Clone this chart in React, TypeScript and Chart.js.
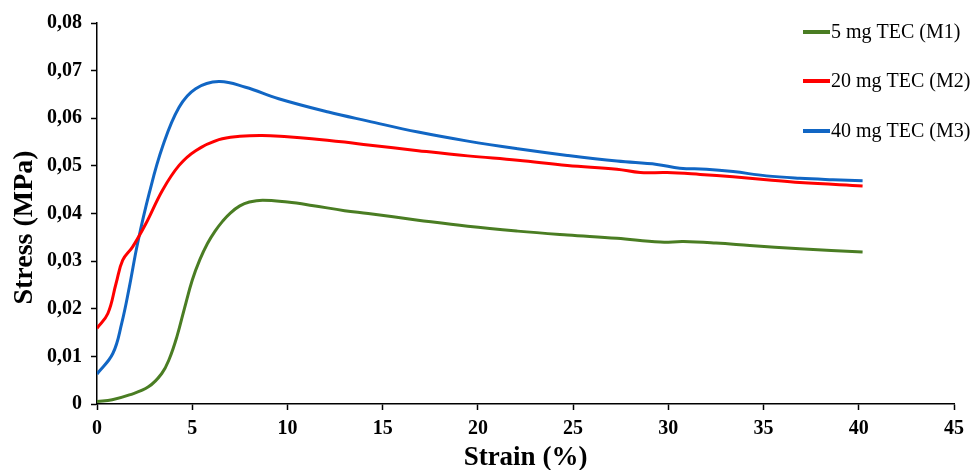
import React, { useEffect, useRef } from "react";
import { Chart, registerables } from "chart.js";

Chart.register(...registerables);

const seriesLabels = ["5 mg TEC (M1)", "20 mg TEC (M2)", "40 mg TEC (M3)"];
const seriesColors = ["#4a7d23", "#ff0000", "#1166c4"];

const m1Strain = [0, 0.8, 1.7, 2.7, 3.4, 3.8, 4.2, 4.6, 5.0, 5.4, 5.8, 6.2, 6.6, 7.0, 7.5, 8.0, 8.7, 10, 11.28, 13, 14.24, 16.86, 19.47, 22.09, 24.7, 27.3, 29.57, 30.8, 32.5, 34.28, 36.9, 40.2];
const m1Stress = [0.0005, 0.0009, 0.0019, 0.0036, 0.0064, 0.0095, 0.0142, 0.0202, 0.026, 0.0303, 0.0337, 0.0363, 0.0384, 0.0401, 0.0416, 0.0424, 0.0428, 0.0424, 0.0417, 0.0406, 0.04, 0.0386, 0.0373, 0.0363, 0.0355, 0.0348, 0.034, 0.0341, 0.0338, 0.0333, 0.0326, 0.0319];

const m2Strain = [0, 0.57, 1.0, 1.35, 1.87, 2.57, 3.44, 4.31, 5.18, 6.4, 7.5, 8.67, 10, 11.28, 13, 14.24, 16.86, 19.47, 22.09, 24.7, 27.3, 28.53, 29.93, 31.67, 33.4, 35.15, 36.9, 40.2];
const m2Stress = [0.0159, 0.019, 0.0253, 0.0302, 0.033, 0.0379, 0.0449, 0.0501, 0.0532, 0.0555, 0.0562, 0.0564, 0.0561, 0.0557, 0.055, 0.0544, 0.0532, 0.0521, 0.0512, 0.0501, 0.0493, 0.0486, 0.0486, 0.0482, 0.0477, 0.0471, 0.0465, 0.0458];

const m3Strain = [0, 0.83, 1.3, 1.7, 2.13, 2.74, 3.44, 4.31, 5.18, 6.4, 7.8, 9.54, 12.15, 14.24, 16.86, 19.47, 22.09, 24.7, 27.3, 29.4, 30.6, 32.0, 33.4, 35.15, 36.9, 38.64, 40.2];
const m3Stress = [0.0063, 0.0106, 0.017, 0.0246, 0.0337, 0.0442, 0.054, 0.0623, 0.0662, 0.0677, 0.0665, 0.0641, 0.0613, 0.0594, 0.0571, 0.0552, 0.0536, 0.0522, 0.051, 0.0503, 0.0495, 0.0493, 0.0488, 0.0479, 0.0474, 0.0471, 0.0469];

const xTitle = "Strain (%)";
const yTitle = "Stress (MPa)    ";

const serif = "'Times New Roman', 'Liberation Serif', serif";

function toPoints(xs: number[], ys: number[]) {
  return xs.map((x, i) => ({ x, y: ys[i] }));
}

const legendPlugin = {
  id: "customLegend",
  afterDraw(chart: any) {
    const ctx = chart.ctx;
    const rows = [32, 81, 131];
    ctx.save();
    chart.data.datasets.forEach((ds: any, i: number) => {
      const y = rows[i];
      ctx.strokeStyle = ds.borderColor;
      ctx.lineWidth = 4;
      ctx.beginPath();
      ctx.moveTo(803, y);
      ctx.lineTo(830, y);
      ctx.stroke();
      ctx.fillStyle = "#000";
      ctx.font = `20px ${serif}`;
      ctx.textBaseline = "middle";
      ctx.textAlign = "left";
      ctx.fillText(ds.label, 831, y + 1);
    });
    ctx.restore();
  },
};

export default function App() {
  const ref = useRef<HTMLCanvasElement | null>(null);
  useEffect(() => {
    if (!ref.current) return;
    const series = [
      toPoints(m1Strain, m1Stress),
      toPoints(m2Strain, m2Stress),
      toPoints(m3Strain, m3Stress),
    ];
    const chart = new Chart(ref.current, {
      type: "line",
      data: {
        datasets: series.map((data, i) => ({
          label: seriesLabels[i],
          data,
          borderColor: seriesColors[i],
          backgroundColor: seriesColors[i],
          borderWidth: 3,
          pointRadius: 0,
          tension: 0.4,
          fill: false,
        })),
      },
      options: {
        animation: false,
        responsive: true,
        maintainAspectRatio: false,
        layout: { padding: { top: 23, right: 13, left: 0, bottom: 0 } },
        plugins: { legend: { display: false }, tooltip: { enabled: false } },
        scales: {
          x: {
            type: "linear",
            min: 0,
            max: 45,
            afterFit(scale: any) {
              scale.height = 66;
            },
            ticks: {
              stepSize: 5,
              color: "#000",
              padding: 7,
              font: { family: serif, size: 20, weight: "bold" },
            },
            grid: { drawOnChartArea: false, tickLength: 6, tickColor: "#000", tickWidth: 1.5 },
            border: { color: "#000", width: 1.5 },
            title: {
              display: true,
              text: xTitle,
              color: "#000",
              font: { family: serif, size: 27, weight: "bold", lineHeight: 1 },
              padding: { top: 0, bottom: -2 },
            },
          },
          y: {
            type: "linear",
            min: 0,
            max: 0.08,
            afterFit(scale: any) {
              scale.width = 97;
            },
            ticks: {
              stepSize: 0.01,
              color: "#000",
              padding: 9,
              font: { family: serif, size: 20, weight: "bold" },
              callback: (v: any) => (Number(v) === 0 ? "0" : Number(v).toFixed(2).replace(".", ",")),
            },
            grid: { drawOnChartArea: false, tickLength: 6, tickColor: "#000", tickWidth: 1.5 },
            border: { color: "#000", width: 1.5 },
            title: {
              display: true,
              text: yTitle,
              color: "#000",
              font: { family: serif, size: 28, weight: "bold", lineHeight: 1 },
              padding: { top: 11, bottom: 0 },
            },
          },
        },
      },
      plugins: [legendPlugin],
    });
    return () => chart.destroy();
  }, []);
  return (
    <div style={{ position: "fixed", left: 0, top: 0, width: 971, height: 470, background: "#fff" }}>
      <canvas ref={ref} />
    </div>
  );
}
